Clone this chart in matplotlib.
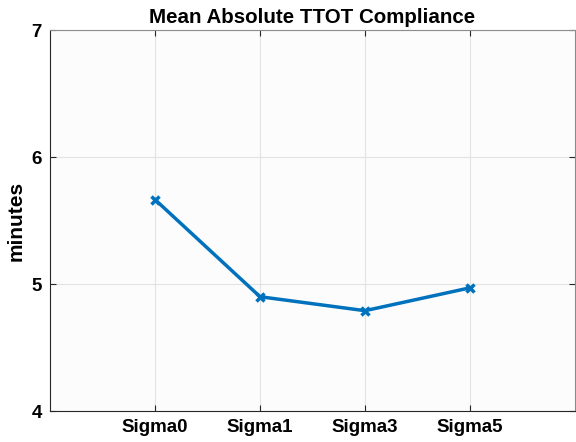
import numpy as np
import matplotlib.pyplot as plt

labels = ["Sigma0", "Sigma1", "Sigma3", "Sigma5"]
values = [5.665, 4.90, 4.79, 4.97]
xpos = [1, 2, 3, 4]
yticks = [4, 5, 6, 7]

plt.rcParams['font.family'] = ['Liberation Sans', 'DejaVu Sans']
plt.rcParams['font.weight'] = 'bold'

fig = plt.figure(figsize=(5.76, 4.42), dpi=100)
ax = fig.add_axes([0.0868, 0.0701, 0.9115, 0.862])
ax.set_facecolor('#fcfcfc')

ax.plot(xpos, values, color='#0072BD', linewidth=2.5, marker='x',
        markersize=6, markeredgewidth=2.5)

ax.set_xlim(0, 5)
ax.set_ylim(4, 7)
ax.set_xticks(xpos)
ax.set_xticklabels(labels, fontsize=13.5, fontweight='bold')
ax.set_yticks(yticks)
ax.set_yticklabels([str(v) for v in yticks], fontsize=13.5, fontweight='bold')
ax.tick_params(direction='in', length=4, color='#262626', pad=6,
               top=True, right=True)
ax.grid(True, color='#e3e3e3', linewidth=0.8)
ax.set_axisbelow(True)
for s in ax.spines.values():
    s.set_color('#262626')
    s.set_linewidth(0.8)
ax.spines['top'].set_color('#8c8c8c')
ax.spines['right'].set_color('#8c8c8c')

ax.set_ylabel("minutes", fontsize=15, fontweight='bold', labelpad=4)
ax.set_title("Mean Absolute TTOT Compliance", fontsize=14.8, fontweight='bold', pad=5)

fig.savefig("out.png", dpi=100)
